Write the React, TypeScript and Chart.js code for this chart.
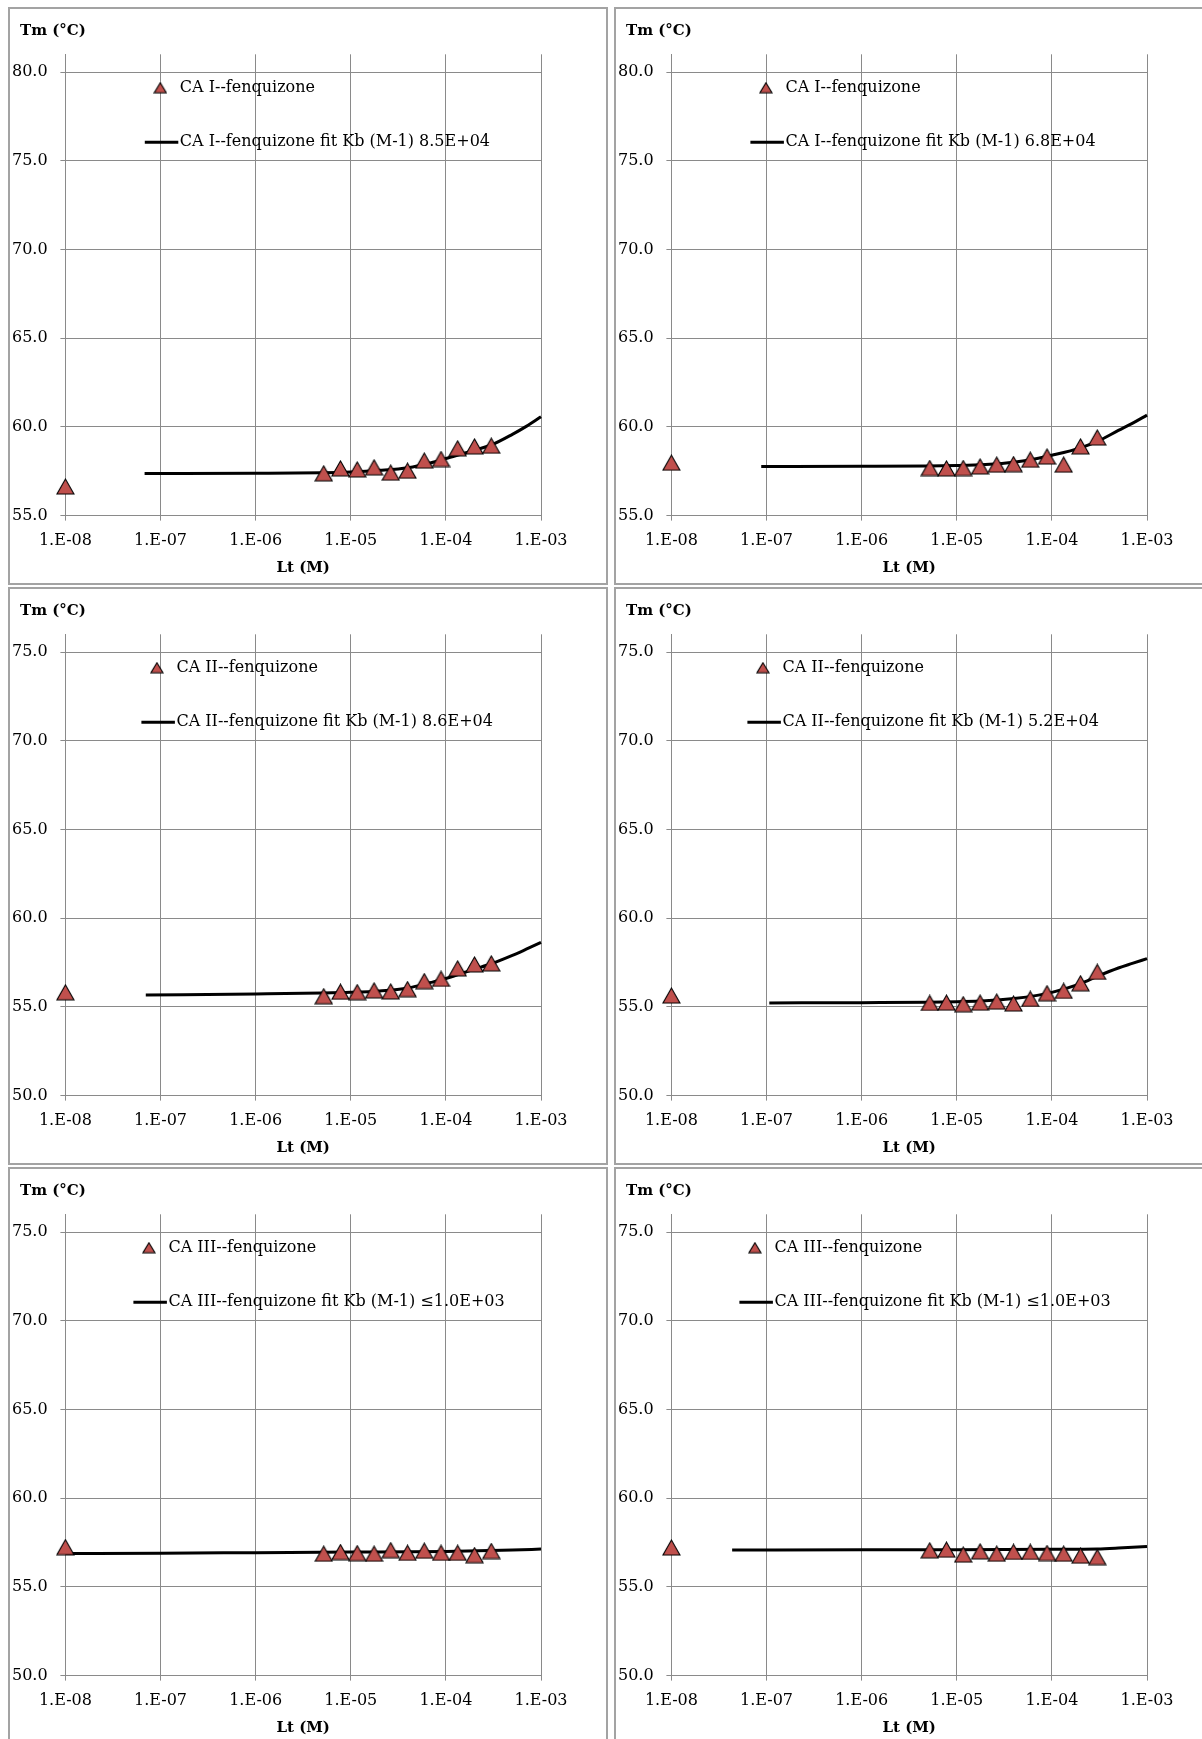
import React, { useEffect, useRef } from 'react';
import { Chart, registerables } from 'chart.js';

Chart.register(...registerables);

// ---------- data ----------
const ligandConc = [1e-8, 5.2e-6, 7.8e-6, 1.17e-5, 1.76e-5, 2.63e-5, 3.95e-5, 5.93e-5, 8.89e-5, 1.33e-4, 2.0e-4, 3.0e-4];

const tmCAI_a = [56.64, 57.38, 57.66, 57.6, 57.72, 57.42, 57.53, 58.1, 58.19, 58.79, 58.9, 58.94];
const tmCAI_b = [57.98, 57.68, 57.66, 57.68, 57.77, 57.87, 57.9, 58.15, 58.33, 57.87, 58.9, 59.4];
const tmCAII_a = [55.82, 55.6, 55.85, 55.83, 55.93, 55.87, 56.0, 56.45, 56.58, 57.17, 57.39, 57.45];
const tmCAII_b = [55.64, 55.22, 55.24, 55.15, 55.24, 55.3, 55.19, 55.45, 55.77, 55.9, 56.33, 56.97];
const tmCAIII_a = [57.24, 56.87, 56.96, 56.9, 56.87, 57.07, 56.92, 57.04, 56.92, 56.92, 56.79, 57.02];
const tmCAIII_b = [57.22, 57.06, 57.1, 56.82, 57.0, 56.87, 56.97, 56.97, 56.91, 56.87, 56.76, 56.68];

const fitCAI_a_x = [6.8e-8, 1e-6, 5e-6, 1e-5, 2e-5, 4e-5, 7e-5, 1e-4, 2e-4, 3e-4, 5e-4, 7e-4, 1e-3];
const fitCAI_a_y = [57.37, 57.39, 57.42, 57.46, 57.55, 57.7, 57.98, 58.22, 58.68, 58.98, 59.58, 60.03, 60.57];
const fitCAI_b_x = [8.8e-8, 1e-6, 5e-6, 1e-5, 2e-5, 4e-5, 7e-5, 1e-4, 2e-4, 3e-4, 5e-4, 7e-4, 1e-3];
const fitCAI_b_y = [57.77, 57.78, 57.79, 57.82, 57.88, 58.01, 58.22, 58.4, 58.82, 59.18, 59.8, 60.2, 60.66];
const fitCAII_a_x = [7e-8, 1e-6, 5e-6, 1e-5, 2e-5, 4e-5, 7e-5, 1e-4, 2e-4, 3e-4, 5e-4, 7e-4, 1e-3];
const fitCAII_a_y = [55.67, 55.73, 55.78, 55.82, 55.9, 56.07, 56.38, 56.6, 57.13, 57.43, 57.9, 58.25, 58.63];
const fitCAII_b_x = [1.07e-7, 1e-6, 5e-6, 1e-5, 2e-5, 4e-5, 7e-5, 1e-4, 2e-4, 3e-4, 5e-4, 7e-4, 1e-3];
const fitCAII_b_y = [55.22, 55.24, 55.26, 55.29, 55.34, 55.47, 55.65, 55.82, 56.31, 56.72, 57.19, 57.45, 57.72];
const fitCAIII_a_x = [1e-8, 1e-7, 1e-6, 1e-5, 1e-4, 3e-4, 5e-4, 1e-3];
const fitCAIII_a_y = [56.88, 56.9, 56.93, 56.96, 57.0, 57.05, 57.08, 57.13];
const fitCAIII_b_x = [4.35e-8, 1e-6, 1e-5, 1e-4, 3e-4, 5e-4, 1e-3];
const fitCAIII_b_y = [57.08, 57.09, 57.1, 57.12, 57.14, 57.19, 57.28];

const xTickValues = [1e-8, 1e-7, 1e-6, 1e-5, 1e-4, 1e-3];
const xTickLabels = ['1.E-08', '1.E-07', '1.E-06', '1.E-05', '1.E-04', '1.E-03'];
const yTicksUpper = [55, 60, 65, 70, 75, 80];
const yTicksLower = [50, 55, 60, 65, 70, 75];

const seriesLabels = ['CA I--fenquizone', 'CA I--fenquizone', 'CA II--fenquizone', 'CA II--fenquizone', 'CA III--fenquizone', 'CA III--fenquizone'];
const fitLabels = [
  'CA I--fenquizone fit Kb (M-1) 8.5E+04',
  'CA I--fenquizone fit Kb (M-1) 6.8E+04',
  'CA II--fenquizone fit Kb (M-1) 8.6E+04',
  'CA II--fenquizone fit Kb (M-1) 5.2E+04',
  'CA III--fenquizone fit Kb (M-1) \u22641.0E+03',
  'CA III--fenquizone fit Kb (M-1) \u22641.0E+03',
];

// ---------- styling ----------
const FONT = 'DejaVu Serif';
const GRID = '#8a8a8a';
const MARKER_FILL = '#c0504d';
const CANVAS_W = 596;
const CANVAS_H = 574;

function makeTriangle(w: number, h: number): HTMLCanvasElement {
  const c = document.createElement('canvas');
  c.width = w + 2;
  c.height = h + 2;
  const g = c.getContext('2d')!;
  g.beginPath();
  g.moveTo(1 + w / 2, 1);
  g.lineTo(1 + w, 1 + h);
  g.lineTo(1, 1 + h);
  g.closePath();
  g.fillStyle = MARKER_FILL;
  g.fill();
  g.lineWidth = 1.1;
  g.strokeStyle = '#000';
  g.stroke();
  return c;
}

const xlLegendPlugin = {
  id: 'xlLegend',
  afterLayout(chart: any) {
    // shift the "Tm (°C)" title to the right, as in the spreadsheet chart
    const tb = chart.titleBlock;
    if (tb) {
      tb.left += 10;
      tb.right += 10;
    }
  },
  afterDraw(chart: any, _args: any, opts: any) {
    const { ctx, chartArea } = chart;
    const ds = chart.data.datasets;
    const x0 = chartArea.left + opts.offset;
    const y1 = chartArea.top + 33.4;
    const y2 = chartArea.top + 88;
    ctx.save();
    ctx.font = `16px "${FONT}"`;
    ctx.fillStyle = '#000';
    ctx.textBaseline = 'middle';
    ctx.textAlign = 'left';
    const tri: HTMLCanvasElement = opts.marker;
    ctx.drawImage(tri, x0 - 19.5 - tri.width / 2, y1 - tri.height / 2);
    ctx.fillText(ds[0].label, x0, y1);
    ctx.strokeStyle = ds[1].borderColor;
    ctx.lineWidth = ds[1].borderWidth;
    ctx.beginPath();
    ctx.moveTo(x0 - 35, y2);
    ctx.lineTo(x0 - 1.5, y2);
    ctx.stroke();
    ctx.fillText(ds[1].label, x0, y2);
    ctx.restore();
  },
};

type PanelProps = {
  idx: number;
  xs: number[];
  ys: number[];
  fitX: number[];
  fitY: number[];
  yTicks: number[];
  yMax: number;
  legendOffset: number;
  left: number;
  top: number;
};

function Panel(p: PanelProps) {
  const ref = useRef<HTMLCanvasElement | null>(null);
  useEffect(() => {
    if (!ref.current) return;
    const tri = makeTriangle(17, 15);
    const legendTri = makeTriangle(12, 10);
    const chart = new Chart(ref.current, {
      type: 'scatter',
      data: {
        datasets: [
          {
            label: seriesLabels[p.idx],
            data: p.xs.map((x, i) => ({ x, y: p.ys[i] })),
            pointStyle: tri as any,
            pointRadius: 8,
            showLine: false,
            clip: false,
          } as any,
          {
            label: fitLabels[p.idx],
            data: p.fitX.map((x, i) => ({ x, y: p.fitY[i] })),
            showLine: true,
            borderColor: '#000',
            borderWidth: 3,
            pointRadius: 0,
            cubicInterpolationMode: 'monotone',
            clip: false,
          } as any,
        ],
      },
      options: {
        responsive: false,
        animation: false,
        devicePixelRatio: 1,
        layout: { padding: { left: 0, right: 65, top: 0, bottom: 0 } },
        plugins: {
          legend: { display: false },
          tooltip: { enabled: false },
          title: {
            display: true,
            text: 'Tm (°C)',
            align: 'start',
            color: '#000',
            font: { family: FONT, size: 15, weight: 'bold' },
            padding: { top: 13, bottom: 14.3 },
          },
          xlLegend: { offset: p.legendOffset, marker: legendTri },
        } as any,
        scales: {
          x: {
            type: 'logarithmic',
            min: xTickValues[0],
            max: xTickValues[xTickValues.length - 1],
            afterBuildTicks: (s: any) => {
              s.ticks = xTickValues.map((v) => ({ value: v }));
            },
            afterFit: (s: any) => {
              s.height = 67.4;
            },
            ticks: {
              autoSkip: false,
              maxRotation: 0,
              minRotation: 0,
              padding: 11,
              color: '#000',
              font: { family: FONT, size: 16 },
              callback: (_v: any, i: number) => xTickLabels[i],
            },
            grid: { color: GRID, lineWidth: 1, tickLength: 5, drawTicks: true },
            border: { color: GRID, width: 1 },
            title: {
              display: true,
              text: 'Lt (M)',
              color: '#000',
              font: { family: FONT, size: 15, weight: 'bold' },
              padding: { top: 0, bottom: 6 },
            },
          },
          y: {
            type: 'linear',
            min: p.yTicks[0],
            max: p.yMax,
            afterBuildTicks: (s: any) => {
              s.ticks = p.yTicks.map((v) => ({ value: v }));
            },
            afterFit: (s: any) => {
              s.width = 55.4;
            },
            ticks: {
              padding: 12.8,
              color: '#000',
              font: { family: FONT, size: 16 },
              callback: (v: any) => Number(v).toFixed(1),
            },
            grid: { color: GRID, lineWidth: 1, tickLength: 5, drawTicks: true },
            border: { color: GRID, width: 1 },
          },
        } as any,
      },
      plugins: [xlLegendPlugin as any],
    });
    return () => chart.destroy();
  }, []);
  return (
    <div
      style={{
        position: 'absolute',
        left: p.left,
        top: p.top,
        width: 600,
        height: 578,
        boxSizing: 'border-box',
        border: '2px solid #a3a3a3',
        background: '#fff',
      }}
    >
      <canvas ref={ref} width={CANVAS_W} height={CANVAS_H} style={{ display: 'block', width: CANVAS_W, height: CANVAS_H }} />
    </div>
  );
}

export default function App() {
  const colX = [8, 614];
  const rowY = [7, 587, 1167];
  return (
    <div
      style={{
        position: 'fixed',
        left: 0,
        top: 0,
        width: 1202,
        height: 1739,
        overflow: 'hidden',
        background: '#fff',
      }}
    >
      <Panel idx={0} xs={ligandConc} ys={tmCAI_a} fitX={fitCAI_a_x} fitY={fitCAI_a_y} yTicks={yTicksUpper} yMax={81} legendOffset={114.4} left={colX[0]} top={rowY[0]} />
      <Panel idx={1} xs={ligandConc} ys={tmCAI_b} fitX={fitCAI_b_x} fitY={fitCAI_b_y} yTicks={yTicksUpper} yMax={81} legendOffset={114} left={colX[1]} top={rowY[0]} />
      <Panel idx={2} xs={ligandConc} ys={tmCAII_a} fitX={fitCAII_a_x} fitY={fitCAII_a_y} yTicks={yTicksLower} yMax={76} legendOffset={111} left={colX[0]} top={rowY[1]} />
      <Panel idx={3} xs={ligandConc} ys={tmCAII_b} fitX={fitCAII_b_x} fitY={fitCAII_b_y} yTicks={yTicksLower} yMax={76} legendOffset={111} left={colX[1]} top={rowY[1]} />
      <Panel idx={4} xs={ligandConc} ys={tmCAIII_a} fitX={fitCAIII_a_x} fitY={fitCAIII_a_y} yTicks={yTicksLower} yMax={76} legendOffset={103} left={colX[0]} top={rowY[2]} />
      <Panel idx={5} xs={ligandConc} ys={tmCAIII_b} fitX={fitCAIII_b_x} fitY={fitCAIII_b_y} yTicks={yTicksLower} yMax={76} legendOffset={103} left={colX[1]} top={rowY[2]} />
    </div>
  );
}
